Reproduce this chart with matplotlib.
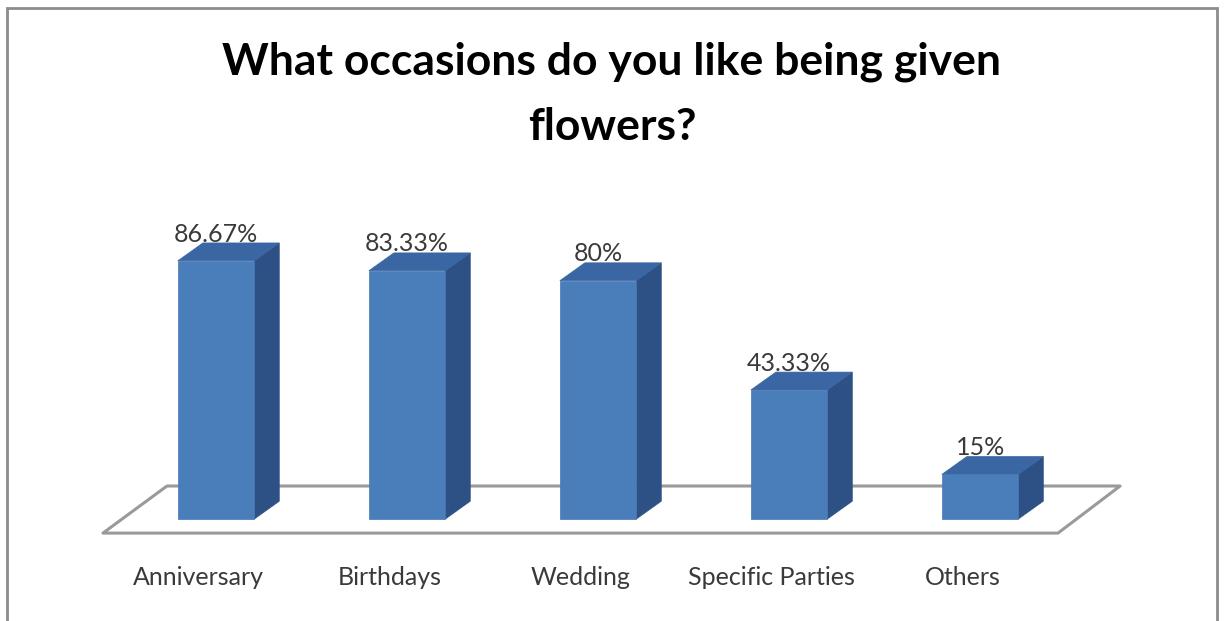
import matplotlib
matplotlib.use('Agg')
import matplotlib.pyplot as plt
from matplotlib.patches import Polygon, Rectangle

plt.rcParams['font.family'] = ['Lato', 'DejaVu Sans']

# Dados da pesquisa
categories = ['Anniversary', 'Birthdays', 'Wedding', 'Specific Parties', 'Others']
values = [86.67, 83.33, 80, 43.33, 15]
value_labels = ['86.67%', '83.33%', '80%', '43.33%', '15%']
title_lines = ['What occasions do you like being given', 'flowers?']

# Cores do estilo 3D
front_color = '#4a7ebb'
top_color = '#3a66a3'
side_color = '#2d5085'
floor_color = '#9a9a9a'
text_color = '#3a3a3a'

fig = plt.figure(figsize=(12.24, 6.21), dpi=100, facecolor='white')
ax = fig.add_axes([0, 0, 1, 1])
ax.set_xlim(-1.131, 5.277)
ax.set_ylim(-34.2, 174.2)
ax.axis('off')

# Piso em perspectiva
floor = Polygon([[-0.592, -4.7], [4.408, -4.7], [4.733, 11.1], [-0.257, 11.1]],
                closed=True, facecolor='white', edgecolor=floor_color,
                linewidth=2.2, joinstyle='round', zorder=1)
ax.add_patch(floor)

# Barras 3D: frente, topo e lateral
half_w = 0.2
dx, dy = 0.131, 6.0
for i, v in enumerate(values):
    x0, x1 = i - half_w, i + half_w
    side = Polygon([[x1, 0], [x1 + dx, dy], [x1 + dx, v + dy], [x1, v]],
                   closed=True, facecolor=side_color, edgecolor=side_color,
                   linewidth=0.5, zorder=3)
    top = Polygon([[x0, v], [x1, v], [x1 + dx, v + dy], [x0 + dx, v + dy]],
                  closed=True, facecolor=top_color, edgecolor=top_color,
                  linewidth=0.5, zorder=3)
    front = Rectangle((x0, 0), 2 * half_w, v, facecolor=front_color,
                      edgecolor='#4577b3', linewidth=0.5, zorder=4)
    ax.add_patch(side)
    ax.add_patch(top)
    ax.add_patch(front)
    ax.text(i, v + 9, value_labels[i], ha='center', va='center',
            fontsize=18, color=text_color, zorder=5)
    ax.text(i - 0.09, -19.5, categories[i], ha='center', va='center',
            fontsize=18, color=text_color)

# Título em duas linhas
for k, line in enumerate(title_lines):
    fig.text(0.5, 1 - (75 + 65 * k) / 621, line, ha='center', va='baseline',
             fontsize=32, fontweight='bold', color='black')

# Moldura do gráfico
frame = Rectangle((7 / 1224, -0.1), (1217 - 7) / 1224, 1.1 - 8 / 621,
                  transform=fig.transFigure, facecolor='none',
                  edgecolor='#8c8c8c', linewidth=2, clip_on=False)
fig.add_artist(frame)

fig.savefig('out.png', dpi=100, facecolor='white')
